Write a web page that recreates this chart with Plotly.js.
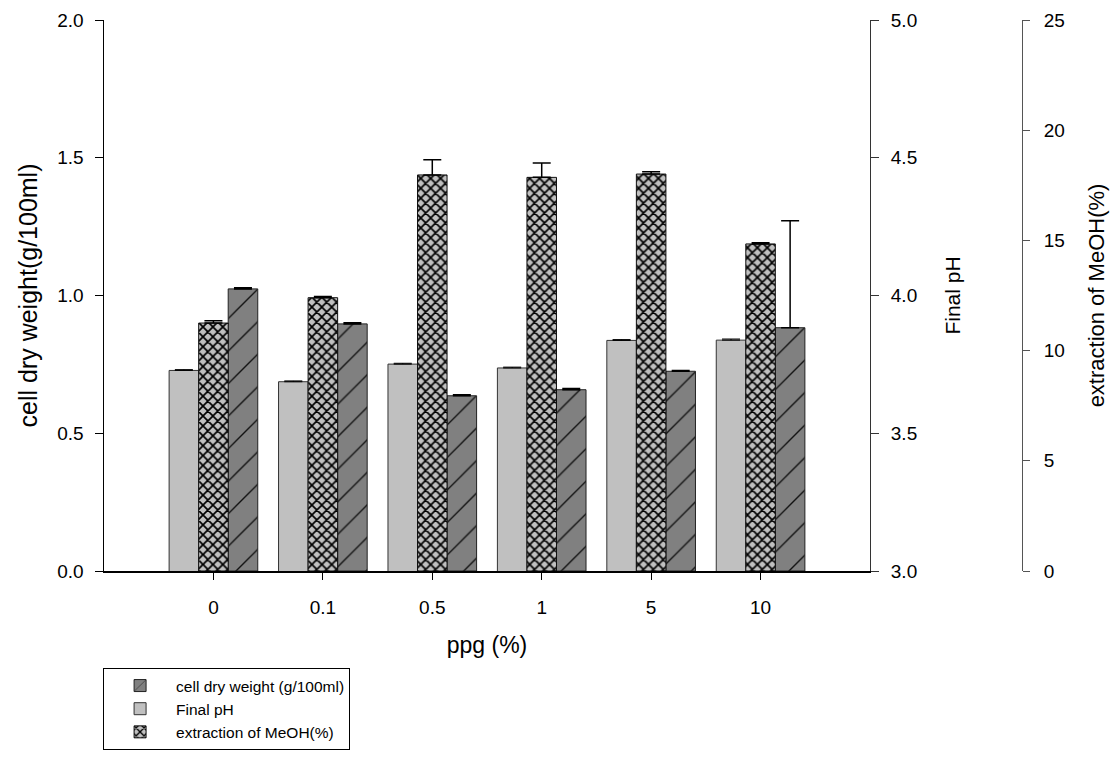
<!DOCTYPE html>
<html>
<head>
<meta charset="utf-8">
<script src="https://cdn.plot.ly/plotly-3.0.1.min.js"></script>
<style>html,body{margin:0;padding:0;background:#fff;}#chart{width:1117px;height:778px;}</style>
</head>
<body>
<div id="chart"></div>
<script>
// categories (ppg %)
const categories = ['0', '0.1', '0.5', '1', '5', '10'];
// cell dry weight (g/100ml), left axis
const cellDryWeight = [1.024, 0.897, 0.636, 0.658, 0.725, 0.883];
const cellDryWeightErr = [0.004, 0.004, 0.004, 0.004, 0.003, 0.388];
// Final pH, first right axis
const finalPH = [3.728, 3.687, 3.751, 3.737, 3.837, 3.838];
const finalPHErr = [0.003, 0.003, 0.003, 0.003, 0.003, 0.004];
// extraction of MeOH (%), second right axis
const meohExtraction = [11.25, 12.40, 17.97, 17.86, 18.01, 14.84];
const meohExtractionErr = [0.10, 0.06, 0.69, 0.65, 0.10, 0.05];

const zeros = categories.map(() => 0);
const font = 'Liberation Sans, Arial, sans-serif';
const barW = 0.27;

const traces = [
  {
    type: 'bar', name: 'cell dry weight (g/100ml)', x: categories, y: cellDryWeight,
    xaxis: 'x', yaxis: 'y', width: barW, offset: barW * 0.5,
    marker: { color: '#808080', line: { color: '#222', width: 1 },
      pattern: { shape: '/', bgcolor: '#808080', fgcolor: '#111', size: 23, solidity: 0.06 } },
    error_y: { type: 'data', symmetric: false, array: cellDryWeightErr, arrayminus: zeros,
      color: '#000', thickness: 1.5, width: 9 }
  },
  {
    type: 'bar', name: 'Final pH', x: categories, y: finalPH,
    xaxis: 'x', yaxis: 'y2', width: barW, offset: -barW * 1.5,
    marker: { color: '#c0c0c0', line: { color: '#333', width: 1 } },
    error_y: { type: 'data', symmetric: false, array: finalPHErr, arrayminus: zeros,
      color: '#000', thickness: 1, width: 9 }
  },
  {
    type: 'bar', name: 'extraction of MeOH(%)', x: categories, y: meohExtraction,
    xaxis: 'x', yaxis: 'y3', width: barW, offset: -barW * 0.5,
    marker: { color: '#c0c0c0', line: { color: '#111', width: 1 },
      pattern: { shape: 'x', bgcolor: '#c0c0c0', fgcolor: '#000', size: 7, solidity: 0.42 } },
    error_y: { type: 'data', symmetric: false, array: meohExtractionErr, arrayminus: zeros,
      color: '#000', thickness: 1.5, width: 9 }
  }
];

const tickFont = { family: font, size: 19, color: '#000' };

const layout = {
  width: 1117, height: 778,
  margin: { l: 104, r: 95, t: 20, b: 207, pad: 0 },
  paper_bgcolor: '#fff', plot_bgcolor: '#fff',
  showlegend: true,
  barmode: 'overlay',
  font: { family: font, color: '#000' },
  xaxis: {
    type: 'category', domain: [0, 766 / 918], range: [-1, 6],
    showgrid: false, zeroline: false, showline: true, linecolor: '#000', linewidth: 2,
    ticks: 'outside', ticklen: 7, tickwidth: 1, tickcolor: '#000',
    tickfont: tickFont, ticklabelstandoff: 11,
    title: { text: 'ppg (%)', font: { family: font, size: 23, color: '#000' }, standoff: 20 }
  },
  yaxis: {
    range: [0, 2], dtick: 0.5, tickformat: '.1f',
    showgrid: false, zeroline: false, showline: true, linecolor: '#000', linewidth: 1.5,
    ticks: 'outside', ticklen: 8, tickwidth: 1, tickcolor: '#000',
    tickfont: tickFont, ticklabelstandoff: 7,
    title: { text: 'cell dry weight(g/100ml)', font: { family: font, size: 25, color: '#000' }, standoff: 12 }
  },
  yaxis2: {
    range: [3, 5], dtick: 0.5, tickformat: '.1f',
    overlaying: 'y', side: 'right', anchor: 'x',
    showgrid: false, zeroline: false, showline: true, linecolor: '#333', linewidth: 1,
    ticks: 'outside', ticklen: 8, tickwidth: 1, tickcolor: '#333',
    tickfont: tickFont, ticklabelstandoff: 8,
    title: { text: 'Final pH', font: { family: font, size: 21, color: '#000' }, standoff: 29 }
  },
  yaxis3: {
    range: [0, 25], dtick: 5,
    overlaying: 'y', side: 'right', anchor: 'free', position: 1,
    showgrid: false, zeroline: false, showline: true, linecolor: '#555', linewidth: 1,
    ticks: 'outside', ticklen: 7, tickwidth: 1, tickcolor: '#555',
    tickfont: tickFont, ticklabelstandoff: 10,
    title: { text: 'extraction of MeOH(%)', font: { family: font, size: 22, color: '#000' }, standoff: 24 }
  },
  legend: {
    x: -0.001, xanchor: 'left', y: -0.176, yanchor: 'top',
    bordercolor: '#000', borderwidth: 1, bgcolor: '#fff',
    font: { family: font, size: 15.5, color: '#000' },
    traceorder: 'normal', itemwidth: 62, tracegroupgap: 0
  }
};

Plotly.newPlot('chart', traces, layout, { staticPlot: true, displayModeBar: false });
</script>
</body>
</html>
